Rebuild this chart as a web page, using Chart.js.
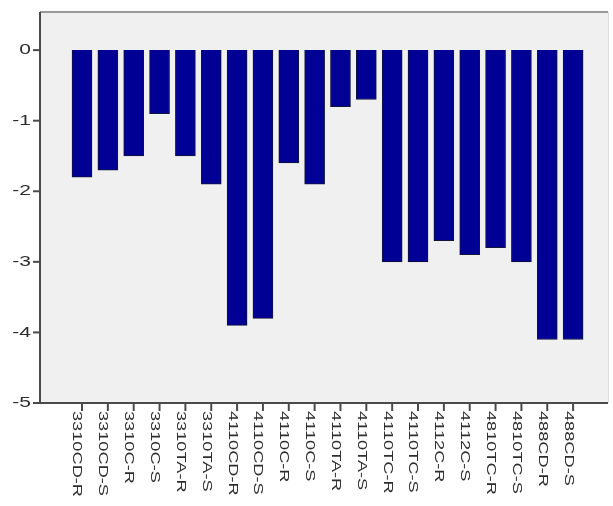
<!DOCTYPE html>
<html>
<head>
<meta charset="utf-8">
<script src="https://cdn.jsdelivr.net/npm/chart.js@4"></script>
<style>
  html, body { margin: 0; padding: 0; background: #fff; }
  #wrap { width: 613px; height: 506px; position: relative; }
</style>
</head>
<body>
<div id="wrap"><canvas id="chart"></canvas></div>
<script>
const categories = ['3310CD-R', '3310CD-S', '3310C-R', '3310C-S', '3310TA-R', '3310TA-S',
    '4110CD-R', '4110CD-S', '4110C-R', '4110C-S', '4110TA-R', '4110TA-S',
    '4110TC-R', '4110TC-S', '4112C-R', '4112C-S', '4810TC-R', '4810TC-S', '488CD-R', '488CD-S'];
const values = [-1.8, -1.7, -1.5, -0.9, -1.5, -1.9, -3.9, -3.8, -1.6, -1.9, -0.8, -0.7,
    -3.0, -3.0, -2.7, -2.9, -2.8, -3.0, -4.1, -4.1];
const yTicks = [0, -1, -2, -3, -4, -5];

const TEXT = '#2e2e2e';
const AXIS = '#4a4a4a';
const STRETCH = 1.4;

// plot frame, axes, tick marks and the rotated labels
const framePlugin = {
    id: 'frame',
    beforeDraw(chart) {
        const { ctx, chartArea: a } = chart;
        ctx.save();
        ctx.fillStyle = '#f0f0f0';
        ctx.fillRect(a.left, a.top, a.right - a.left, a.bottom - a.top);
        ctx.strokeStyle = '#9a9a9a';
        ctx.lineWidth = 2;
        ctx.beginPath();
        ctx.moveTo(a.left, a.top);
        ctx.lineTo(a.right, a.top);
        ctx.stroke();
        ctx.strokeStyle = '#dcdcdc';
        ctx.lineWidth = 1;
        ctx.beginPath();
        ctx.moveTo(a.right + 0.5, a.top);
        ctx.lineTo(a.right + 0.5, a.bottom);
        ctx.stroke();
        ctx.restore();
    },
    afterDraw(chart) {
        const { ctx, chartArea: a } = chart;
        const xs = chart.scales.x, ys = chart.scales.y;
        ctx.save();
        ctx.strokeStyle = AXIS;
        ctx.lineWidth = 2;
        ctx.beginPath();
        ctx.moveTo(a.left, a.top);
        ctx.lineTo(a.left, a.bottom);
        ctx.lineTo(a.right, a.bottom);
        ctx.stroke();

        ctx.fillStyle = TEXT;
        ctx.font = '15px "Liberation Sans", Arial, sans-serif';
        ctx.textBaseline = 'middle';
        ctx.textAlign = 'right';
        yTicks.forEach(v => {
            const y = ys.getPixelForValue(v);
            ctx.beginPath();
            ctx.moveTo(a.left - 7, y);
            ctx.lineTo(a.left, y);
            ctx.stroke();
            ctx.save();
            ctx.translate(a.left - 9, y);
            ctx.scale(STRETCH, 1);
            ctx.fillText(String(v), 0, 0);
            ctx.restore();
        });

        ctx.font = '13px "Liberation Sans", Arial, sans-serif';
        ctx.textAlign = 'left';
        categories.forEach((lab, i) => {
            const x = xs.getPixelForValue(i);
            ctx.beginPath();
            ctx.moveTo(x, a.bottom);
            ctx.lineTo(x, a.bottom + 8);
            ctx.stroke();
            ctx.save();
            ctx.translate(x - 5, a.bottom + 8);
            ctx.rotate(Math.PI / 2);
            ctx.scale(STRETCH, 1);
            ctx.fillText(lab, 0, 0);
            ctx.restore();
        });
        ctx.restore();
    }
};

new Chart(document.getElementById('chart'), {
    type: 'bar',
    data: {
        datasets: [{
            data: values.map((v, i) => ({ x: i, y: v })),
            backgroundColor: '#000094',
            borderColor: '#14143a',
            borderWidth: 1,
            barThickness: 20
        }]
    },
    options: {
        responsive: true,
        maintainAspectRatio: false,
        animation: false,
        layout: { padding: { top: 12, right: 5, left: 0, bottom: 0 } },
        plugins: { legend: { display: false }, tooltip: { enabled: false } },
        scales: {
            x: {
                type: 'linear',
                offset: false,
                min: -1.625,
                max: 20.35,
                grid: { display: false, offset: false },
                border: { display: false },
                ticks: { display: false },
                afterFit: s => { s.height = 103; }
            },
            y: {
                min: -5,
                max: 0.54,
                grid: { display: false },
                border: { display: false },
                ticks: { display: false },
                afterFit: s => { s.width = 40; }
            }
        }
    },
    plugins: [framePlugin]
});
</script>
</body>
</html>
